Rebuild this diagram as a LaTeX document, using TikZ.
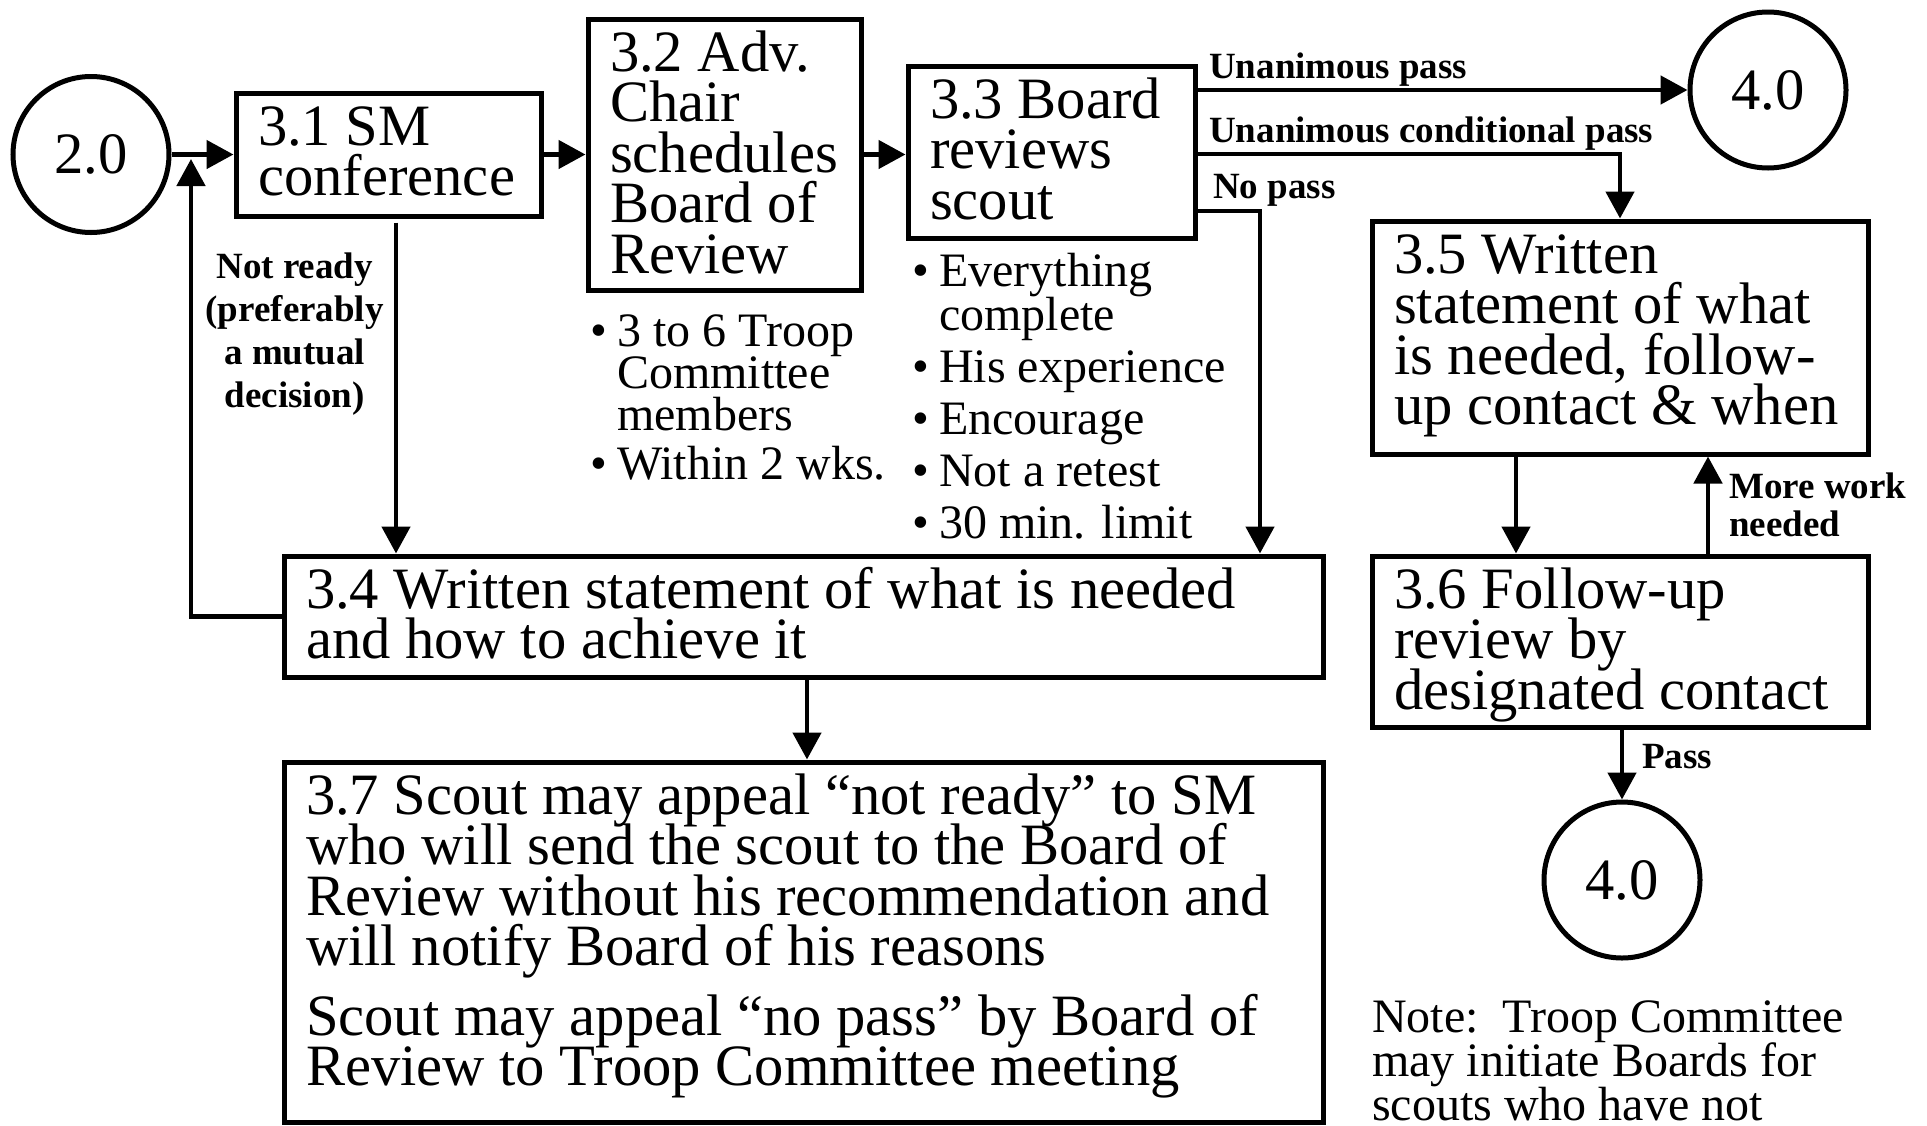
\documentclass[tikz,border=0pt]{standalone}
\usepackage{fontspec}
\setmainfont{Liberation Serif}
\usetikzlibrary{arrows.meta,calc}
\lineskiplimit=-100pt
\newcommand\mainfs{\fontsize{58.6pt}{50.5pt}\selectfont}
\newcommand\bline[1]{\hbox to \hsize{#1\hfil}}
\newcommand\firstl[1]{\hbox to \hsize{\rule{0pt}{52pt}#1\hfil}}
\newcommand\bxt[3]{\vtop to #1{\hsize=#2\relax\mainfs\lineskiplimit=-100pt\relax #3\vfil}}
\newcommand\bitem[1]{\hbox{\hbox to 27pt{\textbullet\hfil}#1}}
\newcommand\bcont[1]{\hbox{\hskip 27pt #1}}
\newcommand\ctrline[1]{\hbox to 0pt{\hss #1\hss}}
\tikzset{
  boxn/.style={draw, line width=5pt, inner xsep=22pt, inner ysep=0pt, anchor=center},
  circn/.style={draw, circle, line width=5pt, minimum size=156pt, inner sep=0pt, font=\fontsize{58.6pt}{58pt}\selectfont},
  lbl/.style={inner sep=0pt, font=\fontsize{37pt}{43pt}\selectfont\bfseries},
  bul/.style={inner sep=0pt, anchor=base west, font=\fontsize{48pt}{43pt}\selectfont},
  arr/.style={line width=4.8pt, -{Triangle[length=27pt,width=28pt]}}
}
\begin{document}
\begin{tikzpicture}[x=1pt,y=-1pt]
\useasboundingbox (0,0) rectangle (1927,1125);

% circles
\node[circn] (c20) at (91,154.5) {2.0};
\node[circn] (c40a) at (1768,90) {4.0};
\node[circn] (c40b) at (1622,880) {4.0};

% boxes
\node[boxn] (n31) at (388.5,154.5) {\bxt{123pt}{261pt}{\firstl{3.1 SM}\bline{conference}}};
\node[boxn] (n32) at (724.5,154.5) {\bxt{271pt}{229pt}{\firstl{3.2 Adv.}\bline{Chair}\bline{schedules}\bline{Board of}\bline{Review}}};
\node[boxn] (n33) at (1051.5,152) {\bxt{172pt}{243pt}{\firstl{3.3 Board}\bline{reviews}\bline{scout}}};
\node[boxn] (n34) at (803.5,616.5) {\bxt{121pt}{995pt}{\firstl{3.4 Written statement of what is needed}\bline{and how to achieve it}}};
\node[boxn] (n37) at (803.5,942) {\bxt{360pt}{995pt}{\firstl{3.7 Scout may appeal “not ready” to SM}\bline{who will send the scout to the Board of}\bline{Review without his recommendation and}\bline{will notify Board of his reasons}\vskip 19pt\bline{Scout may appeal “no pass” by Board of}\bline{Review to Troop Committee meeting}}};
\node[boxn] (n35) at (1620,337.5) {\bxt{233pt}{452pt}{\firstl{3.5 Written}\bline{statement of what}\bline{is needed, follow-}\bline{up contact \& when}}};
\node[boxn] (n36) at (1620,641.5) {\bxt{171pt}{452pt}{\firstl{3.6 Follow-up}\bline{review by}\bline{designated contact}}};

% bullet lists
\node[bul] (b32) at (590,346) {\vtop{\baselineskip=42pt\bitem{3 to 6 Troop}\bcont{Committee}\bcont{members}\vskip 7pt\bitem{Within 2 wks.}}};
\node[bul] (b33) at (912,286) {\vtop{\baselineskip=44pt\bitem{Everything}\bcont{complete}\vskip 8pt\bitem{His experience}\vskip 8pt\bitem{Encourage}\vskip 8pt\bitem{Not a retest}\vskip 8pt\bitem{30 min. limit}}};

% note
\node[bul] (note) at (1372,1032) {\vtop{\baselineskip=44pt\hbox{Note:\ \ Troop Committee}\hbox{may initiate Boards for}\hbox{scouts who have not}}};

% labels
\node[lbl, anchor=base west] (lup) at (1209,78) {Unanimous pass};
\node[lbl, anchor=base west] (lucp) at (1209,142) {Unanimous conditional pass};
\node[lbl, anchor=base west] (lnp) at (1213,198) {No pass};
\node[lbl, anchor=base west] (lnr) at (294,278) {\vtop{\baselineskip=43pt\ctrline{Not ready}\ctrline{(preferably}\ctrline{a mutual}\ctrline{decision)}}};
\node[lbl, anchor=base west] (lmw) at (1729,498) {\vtop{\baselineskip=38pt\hbox{More work}\hbox{needed}}};
\node[lbl, anchor=base west] (lps) at (1642,768) {Pass};

% helper coordinates
\coordinate (lpc) at (191,159);
\coordinate (npc) at (1260,211);
\coordinate (cpc) at (1620,154);
\coordinate (a1) at (396,0);
\coordinate (a2) at (807,0);
\coordinate (a3) at (1516,0);
\coordinate (a4) at (1708,0);

% connectors
\draw[arr] (c20.east) -- (c20.east -| n31.west);
\draw[arr] (n31.east) -- (n31.east -| n32.west);
\draw[arr] (n32.east) -- (n32.east -| n33.west);
\draw[arr] (n33.east |- c40a.west) -- (c40a.west);
\draw[arr] (n33.east |- cpc) -| (n35.north);
\draw[arr] (n33.east |- npc) -- (npc) -- (npc |- n34.north);
\draw[arr] ($(n31.south -| a1)+(0,4)$) -- (a1 |- n34.north);
\draw[arr] (n34.west) -| (lpc);
\draw[arr] (n34.south -| a2) -- (a2 |- n37.north);
\draw[arr] (n35.south -| a3) -- (a3 |- n36.north);
\draw[arr] (n36.north -| a4) -- (a4 |- n35.south);
\draw[arr] (n36.south -| c40b) -- (c40b.north);
\end{tikzpicture}
\end{document}
